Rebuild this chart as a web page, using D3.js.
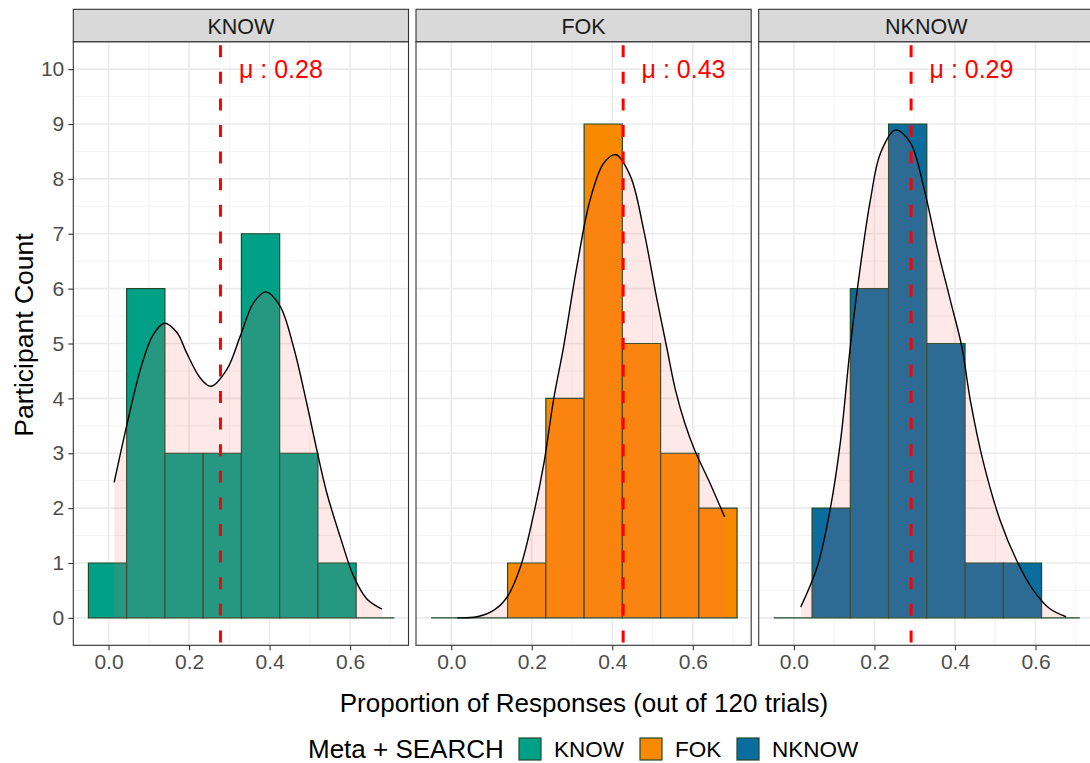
<!DOCTYPE html>
<html>
<head>
<meta charset="utf-8">
<script src="https://cdn.jsdelivr.net/npm/d3@7"></script>
<style>
  html, body { margin: 0; padding: 0; background: #fff; }
  svg { display: block; font-family: "Liberation Sans", Arial, sans-serif; }
</style>
</head>
<body>
<svg id="chart" width="1090" height="763"></svg>
<script>
// ---------------- data ----------------
const facets = ["KNOW", "FOK", "NKNOW"];
const fillColors = ["#00A087", "#F98A00", "#0A6D9D"];
const binStart = -0.05;
const binWidth = 0.095;
const knowCounts  = [1, 6, 3, 3, 7, 3, 1, 0];
const fokCounts   = [0, 0, 1, 4, 9, 5, 3, 2];
const nknowCounts = [0, 2, 6, 9, 5, 1, 1, 0];
const countsByFacet = [knowCounts, fokCounts, nknowCounts];

const means = [0.278, 0.427, 0.291];
const meanLabels = ["0.28", "0.43", "0.29"];

// density (scaled to counts): [x, count]
const knowDensity = [
  [0.014, 2.47], [0.045, 3.50], [0.080, 4.55], [0.110, 5.15], [0.139, 5.37],
  [0.170, 5.20], [0.194, 4.83], [0.227, 4.38], [0.254, 4.22], [0.294, 4.53],
  [0.327, 5.13], [0.360, 5.74], [0.391, 5.94], [0.426, 5.68], [0.459, 4.95],
  [0.492, 3.92], [0.517, 3.07], [0.542, 2.28], [0.577, 1.44], [0.608, 0.77],
  [0.641, 0.35], [0.679, 0.16]
];
const fokDensity = [
  [0.015, 0.00], [0.064, 0.02], [0.106, 0.14], [0.139, 0.38], [0.172, 0.93],
  [0.205, 1.90], [0.230, 2.81], [0.254, 3.97], [0.279, 4.94], [0.312, 6.40],
  [0.345, 7.62], [0.379, 8.29], [0.409, 8.44], [0.445, 8.05], [0.478, 7.07],
  [0.511, 5.80], [0.536, 4.90], [0.557, 4.15], [0.580, 3.55], [0.605, 3.05],
  [0.643, 2.45], [0.679, 1.84]
];
const nknowDensity = [
  [0.017, 0.20], [0.058, 0.93], [0.091, 2.02], [0.116, 3.24], [0.140, 4.94],
  [0.165, 6.40], [0.190, 7.62], [0.215, 8.47], [0.252, 8.89], [0.289, 8.66],
  [0.322, 7.86], [0.355, 6.77], [0.388, 5.80], [0.417, 4.94], [0.438, 3.97],
  [0.471, 2.82], [0.512, 1.78], [0.553, 1.05], [0.594, 0.51], [0.635, 0.17],
  [0.676, 0.02]
];
const densityByFacet = [knowDensity, fokDensity, nknowDensity];

const xTicks = [0.0, 0.2, 0.4, 0.6];
const xMinor = [0.1, 0.3, 0.5, 0.7];
const yTicks = [0, 1, 2, 3, 4, 5, 6, 7, 8, 9, 10];

const xTitle = "Proportion of Responses (out of 120 trials)";
const yTitle = "Participant Count";
const legendTitle = "Meta + SEARCH";

// ---------------- layout ----------------
const svg = d3.select("#chart");
svg.append("rect").attr("width", 1090).attr("height", 763).attr("fill", "#fff");

const panelLefts = [73.3, 416.0, 758.7];
const panelW = 335.2;
const panelTop = 41.7, panelBottom = 645.3;
const stripTop = 9.3;

const y = d3.scaleLinear().domain([-0.5, 10.5]).range([panelBottom, panelTop]);

facets.forEach((name, fi) => {
  const left = panelLefts[fi];
  const x = d3.scaleLinear().domain([-0.0875, 0.745]).range([left, left + panelW]);
  const g = svg.append("g");

  g.append("rect").attr("x", left).attr("y", panelTop).attr("width", panelW)
    .attr("height", panelBottom - panelTop).attr("fill", "#fff");

  // minor grid
  const yMinor = d3.range(-0.5, 10.51, 1);
  g.selectAll(".ymin").data(yMinor).enter().append("line")
    .attr("x1", left).attr("x2", left + panelW)
    .attr("y1", d => y(d)).attr("y2", d => y(d))
    .attr("stroke", "#F2F2F2").attr("stroke-width", 0.9);
  g.selectAll(".xmin").data(xMinor).enter().append("line")
    .attr("y1", panelTop).attr("y2", panelBottom)
    .attr("x1", d => x(d)).attr("x2", d => x(d))
    .attr("stroke", "#F2F2F2").attr("stroke-width", 0.9);
  // major grid
  g.selectAll(".ymaj").data(yTicks).enter().append("line")
    .attr("x1", left).attr("x2", left + panelW)
    .attr("y1", d => y(d)).attr("y2", d => y(d))
    .attr("stroke", "#EBEBEB").attr("stroke-width", 1.6);
  g.selectAll(".xmaj").data(xTicks).enter().append("line")
    .attr("y1", panelTop).attr("y2", panelBottom)
    .attr("x1", d => x(d)).attr("x2", d => x(d))
    .attr("stroke", "#EBEBEB").attr("stroke-width", 1.6);

  // histogram bars (paths so that zero-count bins show as a flat line)
  const bins = countsByFacet[fi].map((c, i) => ({
    x0: binStart + i * binWidth, x1: binStart + (i + 1) * binWidth, c
  }));
  g.selectAll(".bar").data(bins).enter().append("path")
    .attr("d", d => `M${x(d.x0)},${y(0)}V${y(d.c)}H${x(d.x1)}V${y(0)}Z`)
    .attr("fill", fillColors[fi])
    .attr("stroke", "#1F4A2A").attr("stroke-width", 1.2);

  // density area + line
  const dens = densityByFacet[fi];
  const area = d3.area().x(d => x(d[0])).y0(y(0)).y1(d => y(d[1]))
    .curve(d3.curveCatmullRom.alpha(0.5));
  const line = d3.line().x(d => x(d[0])).y(d => y(d[1]))
    .curve(d3.curveCatmullRom.alpha(0.5));
  g.append("path").datum(dens).attr("d", area)
    .attr("fill", "#FF6666").attr("fill-opacity", 0.15).attr("stroke", "none");
  g.append("path").datum(dens).attr("d", line)
    .attr("fill", "none").attr("stroke", "#000").attr("stroke-width", 1.4);

  // mean line
  g.append("line")
    .attr("x1", x(means[fi])).attr("x2", x(means[fi]))
    .attr("y1", panelTop).attr("y2", panelBottom)
    .attr("stroke", "#FF0000").attr("stroke-width", 3)
    .attr("stroke-dasharray", "12 14.6").attr("stroke-dashoffset", -3.5);

  g.append("text")
    .attr("x", x(means[fi] + 0.15)).attr("y", y(10))
    .attr("text-anchor", "middle").attr("dominant-baseline", "central")
    .attr("fill", "#FF0000").style("font-size", "25px")
    .text("\u03bc : " + meanLabels[fi]);

  // panel border
  g.append("rect").attr("x", left).attr("y", panelTop).attr("width", panelW)
    .attr("height", panelBottom - panelTop).attr("fill", "none")
    .attr("stroke", "#333333").attr("stroke-width", 1.1);

  // strip
  g.append("rect").attr("x", left).attr("y", stripTop).attr("width", panelW)
    .attr("height", panelTop - stripTop).attr("fill", "#D9D9D9")
    .attr("stroke", "#333333").attr("stroke-width", 1.1);
  g.append("text").attr("x", left + panelW / 2).attr("y", (stripTop + panelTop) / 2 + 1)
    .attr("text-anchor", "middle").attr("dominant-baseline", "central")
    .attr("fill", "#1A1A1A").style("font-size", "21.5px").text(name);

  // x axis
  const xAxis = d3.axisBottom(x).tickValues(xTicks).tickFormat(d3.format(".1f"))
    .tickSize(5).tickPadding(4);
  const ax = g.append("g").attr("transform", `translate(0,${panelBottom})`).call(xAxis);
  ax.select(".domain").remove();
  ax.selectAll(".tick line").attr("stroke", "#333333").attr("stroke-width", 1.1);
  ax.selectAll(".tick text").attr("fill", "#4D4D4D").style("font-size", "21px")
    .style("font-family", "'Liberation Sans', Arial, sans-serif");

  if (fi === 0) {
    const yAxis = d3.axisLeft(y).tickValues(yTicks).tickSize(5).tickPadding(4);
    const ay = g.append("g").attr("transform", `translate(${left},0)`).call(yAxis);
    ay.select(".domain").remove();
    ay.selectAll(".tick line").attr("stroke", "#333333").attr("stroke-width", 1.1);
    ay.selectAll(".tick text").attr("fill", "#4D4D4D").style("font-size", "21px")
      .style("font-family", "'Liberation Sans', Arial, sans-serif");
  }
});

// axis titles
svg.append("text").attr("x", 584).attr("y", 703)
  .attr("text-anchor", "middle").attr("dominant-baseline", "central")
  .attr("fill", "#000").style("font-size", "26px").text(xTitle);
svg.append("text")
  .attr("transform", "translate(24,335) rotate(-90)")
  .attr("text-anchor", "middle").attr("dominant-baseline", "central")
  .attr("fill", "#000").style("font-size", "26.5px").text(yTitle);

// legend
const lg = svg.append("g");
const legY = 749;
lg.append("text").attr("x", 308).attr("y", legY)
  .attr("dominant-baseline", "central").style("font-size", "26px")
  .attr("fill", "#000").text(legendTitle);
const keyX = [519, 640, 737];
facets.forEach((name, i) => {
  lg.append("rect").attr("x", keyX[i]).attr("y", legY - 11).attr("width", 22).attr("height", 22)
    .attr("fill", fillColors[i]).attr("stroke", "#1F4A2A").attr("stroke-width", 1.2);
  lg.append("text").attr("x", keyX[i] + 35).attr("y", legY)
    .attr("dominant-baseline", "central").style("font-size", "22.5px")
    .attr("fill", "#000").text(name);
});
</script>
</body>
</html>
